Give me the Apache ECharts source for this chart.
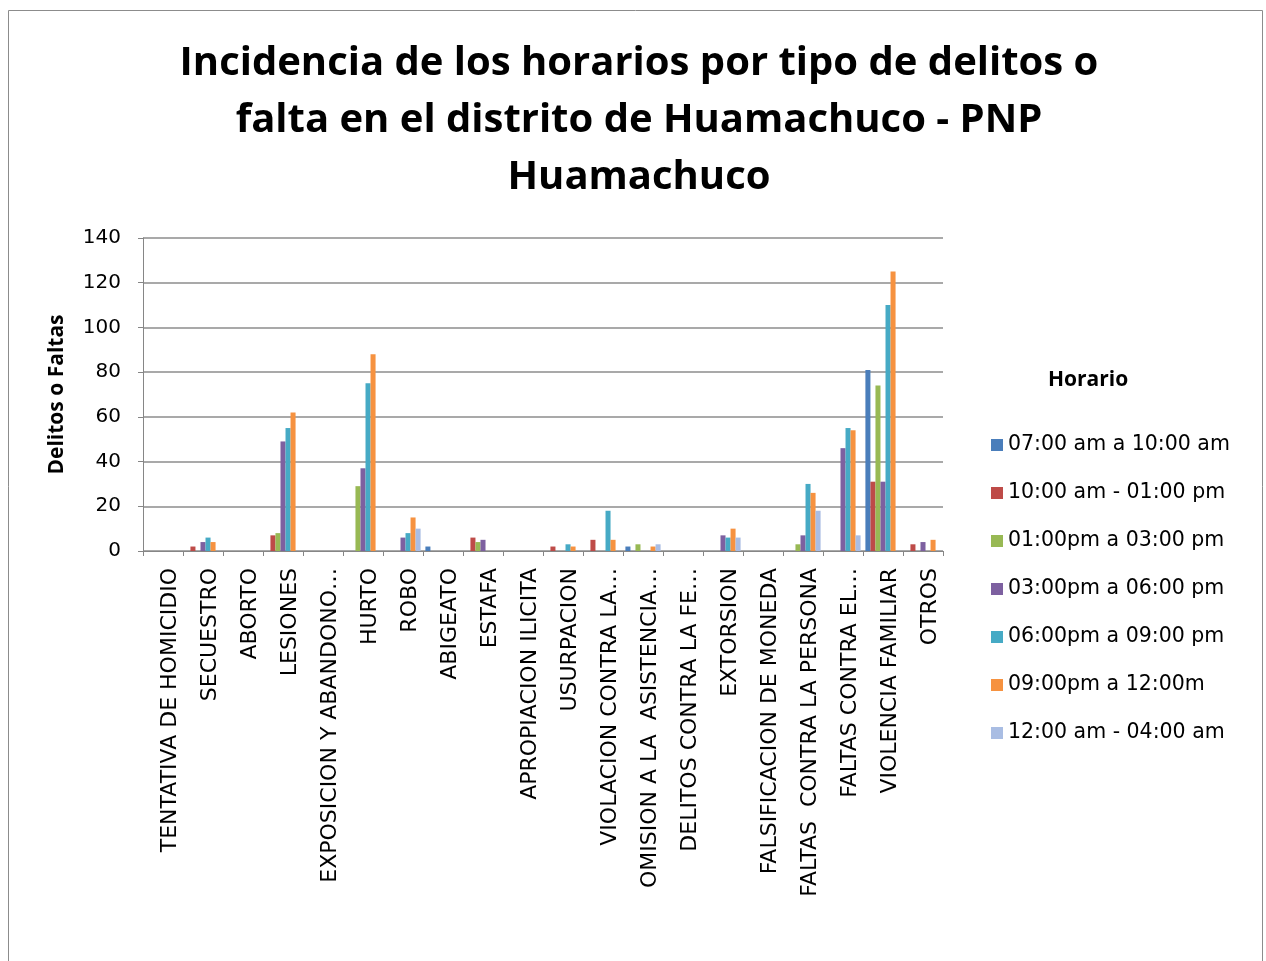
<!DOCTYPE html>
<html>
<head>
<meta charset="utf-8">
<script src="https://cdn.jsdelivr.net/npm/echarts@6/dist/echarts.min.js"></script>
<style>
  html, body { margin: 0; padding: 0; background: #fff; }
  #chart { width: 1266px; height: 961px; }
</style>
</head>
<body>
<div id="chart"></div>
<script>
// categorias (tal como aparecen, truncadas)
const categories = [
  'TENTATIVA DE HOMICIDIO', 'SECUESTRO', 'ABORTO', 'LESIONES',
  'EXPOSICION Y ABANDONO…', 'HURTO', 'ROBO', 'ABIGEATO', 'ESTAFA',
  'APROPIACION ILICITA', 'USURPACION', 'VIOLACION CONTRA LA…',
  'OMISION A LA  ASISTENCIA…', 'DELITOS CONTRA LA FE…', 'EXTORSION',
  'FALSIFICACION DE MONEDA', 'FALTAS  CONTRA LA PERSONA', 'FALTAS CONTRA EL…',
  'VIOLENCIA FAMILIAR', 'OTROS'
]
const seriesNames = [
  '07:00 am a 10:00 am', '10:00 am - 01:00 pm', '01:00pm a 03:00 pm',
  '03:00pm a 06:00 pm', '06:00pm a 09:00 pm', '09:00pm a 12:00m',
  '12:00 am - 04:00 am'
]
const h0710 = [0, 0, 0, 0, 0, 0, 0, 2, 0, 0, 0, 0, 2, 0, 0, 0, 0, 0, 81, 0]
const h1001 = [0, 2, 0, 7, 0, 0, 0, 0, 6, 0, 2, 5, 0, 0, 0, 0, 0, 0, 31, 3]
const h0103 = [0, 0, 0, 8, 0, 29, 0, 0, 4, 0, 0, 0, 3, 0, 0, 0, 3, 0, 74, 0]
const h0306 = [0, 4, 0, 49, 0, 37, 6, 0, 5, 0, 0, 0, 0, 0, 7, 0, 7, 46, 31, 4]
const h0609 = [0, 6, 0, 55, 0, 75, 8, 0, 0, 0, 3, 18, 0, 0, 6, 0, 30, 55, 110, 0]
const h0912 = [0, 4, 0, 62, 0, 88, 15, 0, 0, 0, 2, 5, 2, 0, 10, 0, 26, 54, 125, 5]
const h1204 = [0, 0, 0, 0, 0, 0, 10, 0, 0, 0, 0, 0, 3, 0, 6, 0, 18, 7, 0, 0]
const yTicks = [0, 20, 40, 60, 80, 100, 120, 140]

const colors = ['#4a7ebb', '#be4b48', '#98b954', '#7d60a0', '#46aac5', '#f69240', '#a9bde3']
const allData = [h0710, h1001, h0103, h0306, h0609, h0912, h1204]

const chart = echarts.init(document.getElementById('chart'))
chart.setOption({
  backgroundColor: '#fff',
  animation: false,
  color: colors,
  title: {
    text: 'Incidencia de los horarios por tipo de delitos o\nfalta en el distrito de Huamachuco - PNP\nHuamachuco',
    left: 634,
    top: 30,
    textAlign: 'center',
    textStyle: {
      fontFamily: 'Open Sans',
      fontWeight: 'bold',
      fontSize: 40,
      lineHeight: 57,
      color: '#000'
    }
  },
  graphic: [
    {
      type: 'rect',
      shape: { x: 8.5, y: 10.5, width: 1254, height: 960 },
      style: { fill: 'none', stroke: '#8c8c8c', lineWidth: 1 },
      silent: true
    },
    {
      type: 'text',
      left: 1048,
      top: 370,
      style: {
        text: 'Horario',
        font: 'bold 21px "Open Sans"',
        fill: '#000'
      }
    }
  ],
  legend: {
    orient: 'vertical',
    left: 986,
    top: 428,
    itemWidth: 12,
    itemHeight: 12,
    itemGap: 24,
    icon: 'rect',
    data: seriesNames,
    textStyle: {
      fontFamily: 'DejaVu Sans',
      fontSize: 20.5,
      lineHeight: 24,
      color: '#000'
    }
  },
  grid: {
    left: 143,
    right: 323,
    top: 238,
    bottom: 410
  },
  xAxis: {
    type: 'category',
    data: categories,
    axisLine: { lineStyle: { color: '#868686' } },
    axisTick: { show: true, length: 5, lineStyle: { color: '#868686' } },
    axisLabel: {
      rotate: 90,
      interval: 0,
      margin: 17,
      verticalAlign: 'top',
      lineHeight: 14,
      fontFamily: 'DejaVu Sans',
      fontSize: 22,
      color: '#000'
    }
  },
  yAxis: {
    type: 'value',
    min: 0,
    max: 140,
    interval: 20,
    name: 'Delitos o Faltas',
    nameLocation: 'middle',
    nameGap: 75,
    nameTextStyle: {
      fontFamily: 'Open Sans',
      fontWeight: 'bold',
      fontSize: 21,
      color: '#000'
    },
    axisLine: { show: true, lineStyle: { color: '#868686' } },
    axisTick: { show: true, length: 5, lineStyle: { color: '#868686' } },
    axisLabel: {
      margin: 22,
      fontFamily: 'DejaVu Sans',
      fontSize: 20,
      color: '#000',
      formatter: v => yTicks.includes(v) ? String(v) : ''
    },
    splitLine: { lineStyle: { color: '#8c8c8c', width: 1.5 } }
  },
  series: allData.map((d, i) => ({
    name: seriesNames[i],
    type: 'bar',
    data: d,
    barGap: '0%',
    barCategoryGap: '12%'
  }))
})
</script>
</body>
</html>
